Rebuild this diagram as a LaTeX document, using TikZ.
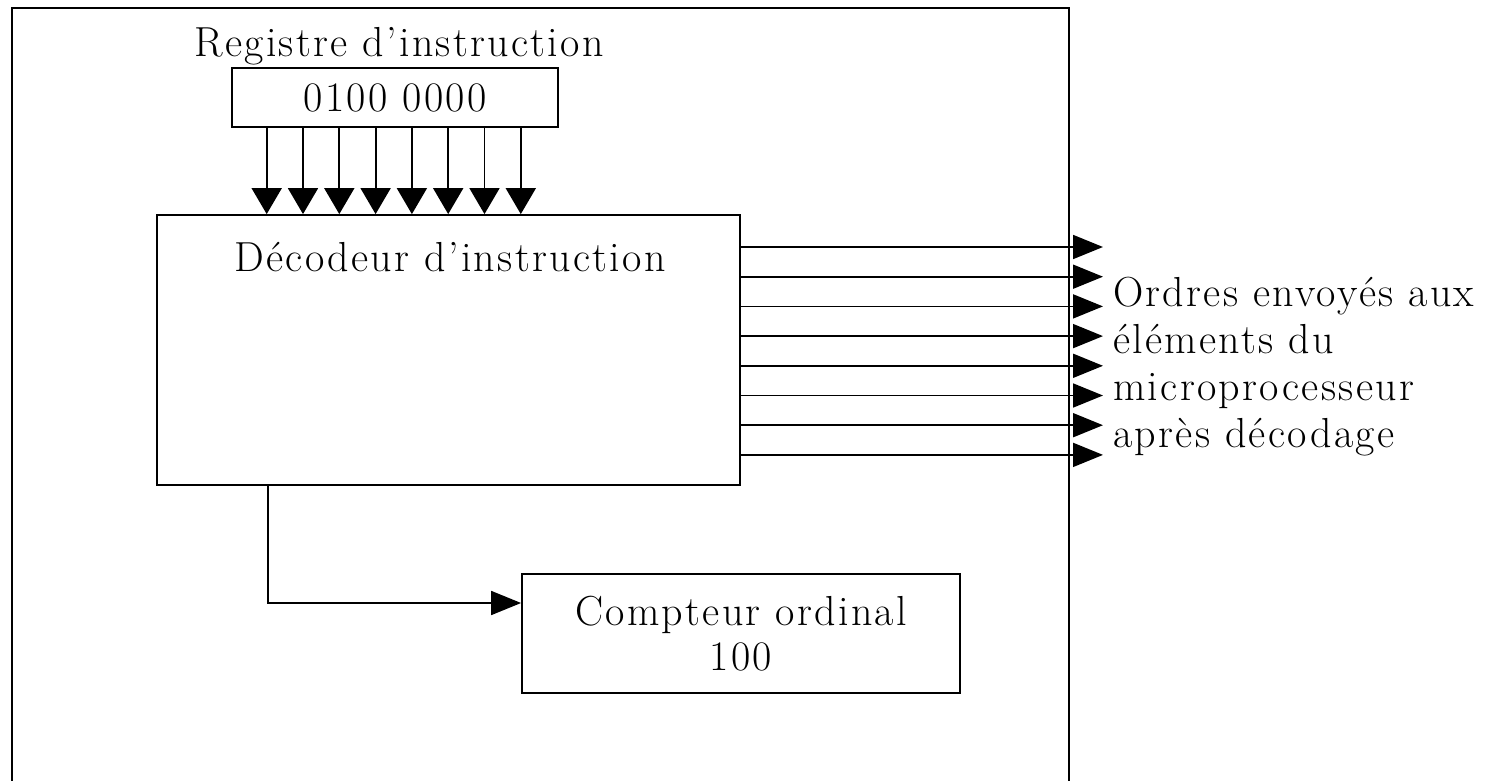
\documentclass[tikz,border=0pt]{standalone}
\usepackage{fontspec}
\setmainfont{Latin Modern Roman}[LetterSpace=5.5]
\usetikzlibrary{positioning}
\usetikzlibrary{arrows.meta}
\tikzset{>={Triangle[length=30pt,width=24pt]}}
\tikzset{bas/.style={-{Triangle[length=26pt,width=30pt]}}}
\tikzset{boite/.style={draw, line width=1.8pt, inner sep=0pt}}
\tikzset{fil/.style={line width=1.8pt}}
\tikzset{txt/.style={inner sep=0pt, font=\fontsize{42}{45}\selectfont}}

\begin{document}
\begin{tikzpicture}[x=1pt, y=-1pt]
\useasboundingbox (0,0) rectangle (1489,781);

% cadre du microprocesseur
\draw[line width=2.4pt] (12,800) -- (12,8) -- (1069,8) -- (1069,800);

\node[boite, txt, minimum width=326pt, minimum height=59pt] (reg) at (395,97.5) {0100 0000};
\node[txt] (regnom) at (399,46) {Registre d’instruction};

\node[boite, minimum width=583pt, minimum height=270pt] (dec) at (448.5,350) {};
\node[txt] (decnom) at (450,257) {Décodeur d’instruction};

\node[boite, txt, align=center, minimum width=438pt, minimum height=119pt] (cpt) at (741,633.5) {Compteur ordinal\\100};

\node[txt, anchor=west, align=left, font=\fontsize{42}{47}\selectfont] (ordres) at (1113,367)
 {Ordres envoyés aux\\éléments du\\microprocesseur\\après décodage};

% bus registre -> decodeur
\foreach \i in {0,...,7} {
 \coordinate (b\i) at (266.7+36.3*\i, 0);
 \draw[fil, bas] (b\i |- reg.south) -- (b\i |- dec.north);
}

% ordres en sortie
\foreach \i in {0,...,7} {
 \coordinate (o\i) at (1103, 247+29.7*\i);
 \draw[fil, ->] (o\i -| dec.east) -- (o\i);
}

\coordinate (coude) at (268,603);
\draw[fil, ->] (coude |- dec.south) -- (coude) -- (cpt.west |- coude);

\end{tikzpicture}
\end{document}
